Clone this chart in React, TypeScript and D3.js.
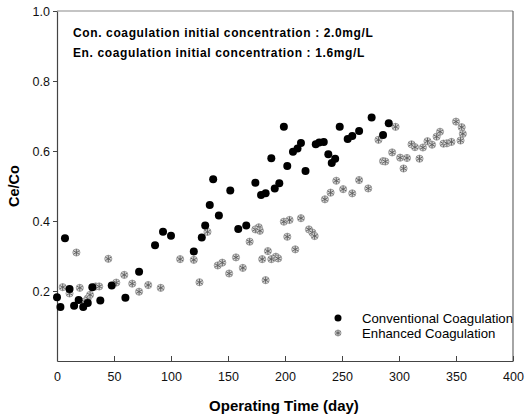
import * as d3 from 'd3';
import { useEffect, useRef } from 'react';

// conventional coagulation (black dots): [day, Ce/Co]
const conventional: [number, number][] = [
    [0, 0.182], [3, 0.154], [7, 0.351], [11, 0.206], [15, 0.158], [19, 0.174],
    [23, 0.154], [27, 0.166], [31, 0.211], [38, 0.173], [48, 0.216], [60, 0.181],
    [72, 0.255], [86, 0.331], [93, 0.369], [100, 0.358], [120, 0.313], [127, 0.353],
    [130, 0.387], [134, 0.446], [137, 0.519], [142, 0.416], [152, 0.487], [159, 0.377],
    [166, 0.387], [174, 0.509], [179, 0.474], [183, 0.479], [188, 0.579], [191, 0.493],
    [195, 0.508], [199, 0.669], [202, 0.557], [207, 0.598], [211, 0.607], [214, 0.623],
    [218, 0.543], [227, 0.619], [230, 0.624], [234, 0.626], [238, 0.591], [241, 0.566],
    [244, 0.578], [248, 0.669], [255, 0.634], [259, 0.643], [265, 0.657], [276, 0.696],
    [286, 0.646], [291, 0.679]
];

// enhanced coagulation (grey stars): [day, Ce/Co]
const enhanced: [number, number][] = [
    [5, 0.211], [11, 0.193], [17, 0.31], [20, 0.209], [24, 0.17], [27, 0.179],
    [29, 0.189], [34, 0.213], [37, 0.213], [45, 0.292], [52, 0.224], [59, 0.246],
    [66, 0.221], [72, 0.198], [80, 0.217], [91, 0.209], [108, 0.291], [120, 0.289],
    [125, 0.225], [132, 0.369], [141, 0.273], [145, 0.281], [151, 0.25], [157, 0.296],
    [163, 0.266], [169, 0.341], [174, 0.376], [177, 0.382], [178, 0.372], [180, 0.291],
    [183, 0.231], [185, 0.314], [188, 0.291], [192, 0.298], [194, 0.293], [199, 0.398],
    [202, 0.355], [204, 0.403], [209, 0.319], [214, 0.408], [221, 0.376], [224, 0.367],
    [226, 0.357], [235, 0.462], [240, 0.481], [245, 0.515], [251, 0.491], [259, 0.479],
    [265, 0.517], [273, 0.493], [282, 0.632], [286, 0.571], [288, 0.57], [294, 0.596],
    [297, 0.669], [301, 0.581], [304, 0.55], [307, 0.58], [311, 0.619], [314, 0.611],
    [318, 0.578], [321, 0.61], [325, 0.628], [329, 0.618], [333, 0.641], [336, 0.655],
    [339, 0.621], [342, 0.622], [346, 0.626], [350, 0.684], [355, 0.668], [356, 0.649],
    [354, 0.63]
];

const xTicks = [0, 50, 100, 150, 200, 250, 300, 350, 400];
const yTicks = [0.2, 0.4, 0.6, 0.8, 1.0];
const notes = [
    "Con. coagulation initial concentration : 2.0mg/L",
    "En. coagulation initial concentration : 1.6mg/L"
];
const legendLabels = ["Conventional Coagulation", "Enhanced Coagulation"];

const FONT = "'Liberation Sans', Arial, sans-serif";

const App = () => {
    const ref = useRef<SVGSVGElement | null>(null);

    useEffect(() => {
        if (!ref.current) return;
        const margin = { top: 11, right: 19, bottom: 57, left: 57 };
        const width = 532 - margin.left - margin.right;
        const height = 418 - margin.top - margin.bottom;

        const root = d3.select(ref.current);
        root.selectAll("*").remove();

        const svg = root.append("g")
            .attr("transform", `translate(${margin.left},${margin.top})`);

        const x = d3.scaleLinear().domain([0, 400]).range([0, width]);
        const y = d3.scaleLinear().domain([0, 1]).range([height, 0]);

        // frame (top and right are lighter)
        svg.append("line").attr("x1", 0).attr("x2", width).attr("y1", 0).attr("y2", 0)
            .attr("stroke", "#8a8a8a").attr("stroke-width", 1.2);
        svg.append("line").attr("x1", width).attr("x2", width).attr("y1", 0).attr("y2", height)
            .attr("stroke", "#6a6a6a").attr("stroke-width", 1.2);

        // x axis: ticks point inward
        const xAxis = svg.append("g")
            .attr("transform", `translate(0,${height})`)
            .call(d3.axisBottom(x).tickValues(xTicks).tickSizeInner(-5).tickSizeOuter(0).tickPadding(11));
        xAxis.select(".domain").attr("stroke", "#444").attr("stroke-width", 1.2);
        xAxis.selectAll(".tick line").attr("stroke", "#444");
        xAxis.selectAll("text").attr("font-family", FONT).attr("font-size", 12.5).attr("fill", "#111");

        const yAxis = svg.append("g")
            .call(d3.axisLeft(y).tickValues(yTicks).tickFormat(d3.format(".1f")).tickSizeInner(4).tickSizeOuter(0).tickPadding(3));
        yAxis.select(".domain").attr("stroke", "#444").attr("stroke-width", 1.2);
        yAxis.selectAll(".tick line").attr("stroke", "#444");
        yAxis.selectAll("text").attr("font-family", FONT).attr("font-size", 12.5).attr("fill", "#111");

        // axis titles
        svg.append("text")
            .attr("x", width / 2 - 1).attr("y", height + 50)
            .attr("text-anchor", "middle")
            .attr("font-family", FONT).attr("font-size", 15).attr("font-weight", "bold")
            .text("Operating Time (day)");

        svg.append("text")
            .attr("transform", `translate(${19 - margin.left},${y(0.5)}) rotate(-90)`)
            .attr("text-anchor", "middle")
            .attr("font-family", FONT).attr("font-size", 14.5).attr("font-weight", "bold")
            .text("Ce/Co");

        // notes in the top-left
        svg.selectAll(".note")
            .data(notes)
            .enter().append("text")
            .attr("class", "note")
            .attr("x", 16).attr("y", (_, i) => 26 + i * 20)
            .attr("font-family", FONT).attr("font-size", 12).attr("font-weight", "bold")
            .attr("letter-spacing", 0.62)
            .text(d => d);

        const drawStar = (g: d3.Selection<SVGGElement, unknown, null, undefined>, s: number) => {
            g.append("circle").attr("r", 3.6 * s)
                .attr("fill", "#d6d6d6").attr("stroke", "#909090").attr("stroke-width", 0.8);
            g.append("path").attr("d", d3.symbol(d3.symbolAsterisk, 32 * s * s)() as string)
                .attr("fill", "none").attr("stroke", "#5a5a5a").attr("stroke-width", 0.9);
        };

        // enhanced
        enhanced.forEach(d => {
            const g = svg.append("g").attr("transform", `translate(${x(d[0])},${y(d[1])})`) as any;
            drawStar(g, 1);
        });

        // conventional
        svg.selectAll(".conv")
            .data(conventional)
            .enter().append("circle")
            .attr("class", "conv")
            .attr("cx", d => x(d[0]))
            .attr("cy", d => y(d[1]))
            .attr("r", 4)
            .attr("fill", "#000");

        // legend
        const legend = svg.append("g").attr("transform", `translate(${338 - margin.left},${318 - margin.top})`);
        legend.append("circle").attr("cx", 0).attr("cy", 0).attr("r", 3.5).attr("fill", "#000");
        drawStar(legend.append("g").attr("transform", "translate(0,15)") as any, 0.85);
        legend.selectAll(".lg")
            .data(legendLabels)
            .enter().append("text")
            .attr("class", "lg")
            .attr("x", 24).attr("y", (_, i) => i * 15)
            .attr("dy", "0.35em")
            .attr("font-family", FONT).attr("font-size", 13.2)
            .text(d => d);
    }, []);

    return (
        <div style={{ position: "absolute", left: 0, top: 0 }}>
            <svg ref={ref} width={532} height={418} style={{ display: "block", background: "#fff" }} />
        </div>
    );
};

export default App;
